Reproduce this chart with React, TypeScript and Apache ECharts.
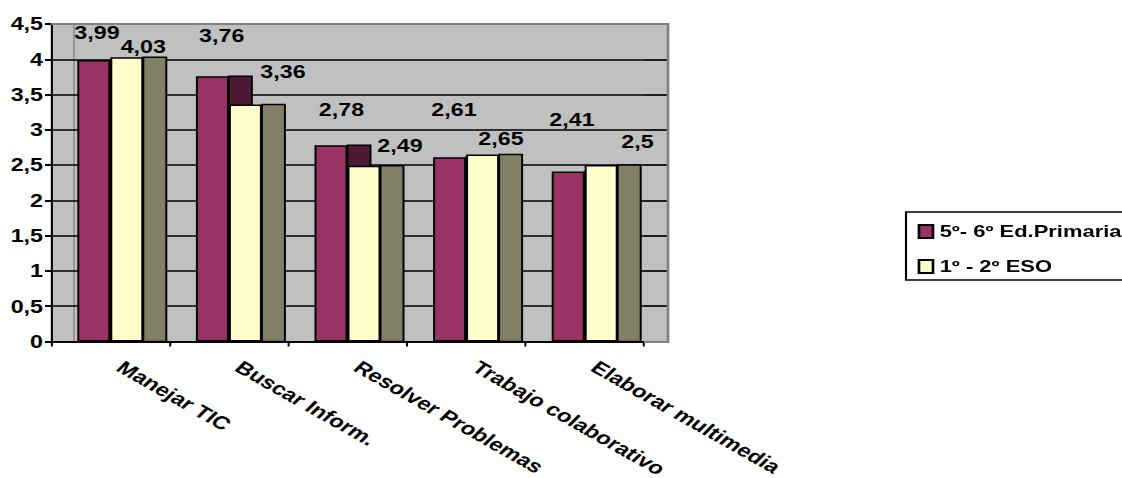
import React, { useEffect, useRef } from "react";
import * as echarts from "echarts";

// ---- data ----
const categories = [
  "Manejar TIC",
  "Buscar Inform.",
  "Resolver Problemas",
  "Trabajo colaborativo",
  "Elaborar multimedia",
];
const primaria = [3.99, 3.76, 2.78, 2.61, 2.41];
const eso = [4.03, 3.36, 2.49, 2.65, 2.5];
const seriesNames = ["5º- 6º Ed.Primaria", "1º - 2º ESO"];
const yMin = 0;
const yMax = 4.5;
const yInterval = 0.5;

// ---- styling / layout (page px, horizontally stretched by S) ----
const S = 1.33;
const W = 1122;
const H = 478;
const CW = W / S;
const sx = (v: number) => v / S;

// label centre relative to the bar front face top-left (page px)
const primariaLabelPos = [
  [19.7, -27.5],
  [25.8, -40.7],
  [27, -35.8],
  [20.9, -47.8],
  [20.3, -51.5],
];
const esoLabelPos = [
  [33, -10.8],
  [54.1, -32.4],
  [52.5, -20.3],
  [34.9, -15.8],
  [52.8, -23.4],
];

const FONT = "'Liberation Sans', Arial, sans-serif";
const PURPLE = "#993366";
const PURPLE_SIDE = "#4D1A33";
const YELLOW = "#FFFFCC";
const YELLOW_SIDE = "#808066";
const BG = "#C0C0C0";

const BAR_W = sx(33);
const DEPTH = sx(23);
const BORDER = 1.5;

const fmt = (v: number) => String(v).replace(".", ",");

export default function App() {
  const ref = useRef<HTMLDivElement>(null);

  useEffect(() => {
    if (!ref.current) return;
    const chart = echarts.init(ref.current, null, {
      renderer: "svg",
      width: CW,
      height: H,
    });

    const labelBase = {
      show: true,
      color: "#000",
      fontFamily: FONT,
      fontWeight: "bold" as const,
      fontSize: 17.5,
      align: "center" as const,
      verticalAlign: "middle" as const,
      formatter: (p: any) => fmt(p.value),
    };

    const sideSeries = (
      name: string,
      values: number[],
      offset: number,
      fill: string,
      z: number
    ) => ({
      type: "custom",
      name,
      xAxisIndex: 0,
      yAxisIndex: 0,
      z,
      silent: true,
      data: values.map((v, i) => [i, v]),
      encode: { x: 0, y: 1 },
      renderItem: (params: any, api: any) => {
        const i = api.value(0);
        const v = api.value(1);
        const top = api.coord([i, v]);
        const base = api.coord([i, 0]);
        return {
          type: "rect",
          shape: {
            x: top[0] + offset,
            y: top[1],
            width: DEPTH,
            height: base[1] - top[1],
          },
          style: { fill, stroke: "#000", lineWidth: BORDER },
        };
      },
    });

    const option: any = {
      animation: false,
      backgroundColor: "#fff",
      textStyle: { fontFamily: FONT },
      grid: [
        {
          left: sx(51),
          top: 24,
          width: sx(593),
          height: 317.5,
          show: true,
          backgroundColor: BG,
          borderWidth: 0,
          containLabel: false,
          outerBoundsMode: "none",
        },
        {
          left: sx(644),
          top: 24,
          width: sx(24),
          height: 317.5,
          show: true,
          backgroundColor: BG,
          borderWidth: 0,
          containLabel: false,
          outerBoundsMode: "none",
        },
      ],
      xAxis: [
        {
          type: "category",
          gridIndex: 0,
          data: categories,
          axisLine: { show: true, lineStyle: { color: "#000", width: 2 } },
          axisTick: {
            show: true,
            length: 5,
            lineStyle: { color: "#000", width: 1.5 },
          },
          axisLabel: {
            interval: 0,
            rotate: -37,
            margin: 18,
            padding: [0, 0, 0, 9],
            color: "#000",
            fontFamily: FONT,
            fontWeight: "bold",
            fontSize: 18,
          },
        },
        {
          type: "category",
          gridIndex: 1,
          data: [""],
          show: false,
        },
      ],
      yAxis: [
        {
          type: "value",
          gridIndex: 0,
          min: yMin,
          max: yMax,
          interval: yInterval,
          axisLine: { show: true, lineStyle: { color: "#000", width: 1.6 } },
          axisTick: {
            show: true,
            length: sx(6),
            lineStyle: { color: "#000", width: 2 },
          },
          axisLabel: {
            margin: sx(8),
            color: "#000",
            fontFamily: FONT,
            fontWeight: "bold",
            fontSize: 17.5,
            formatter: (v: number) => fmt(v),
          },
          splitLine: { show: true, lineStyle: { color: "#000", width: 1.7 } },
        },
        {
          type: "value",
          gridIndex: 1,
          min: yMin,
          max: yMax,
          interval: yInterval,
          axisLine: { show: false },
          axisTick: { show: false },
          axisLabel: { show: false },
          splitLine: { show: true, lineStyle: { color: "#000", width: 1.7 } },
        },
      ],
      legend: {
        data: seriesNames,
        orient: "vertical",
        left: sx(911),
        top: 218,
        itemWidth: sx(14),
        itemHeight: 13,
        itemGap: 18,
        icon: "rect",
        textStyle: {
          color: "#000",
          fontFamily: FONT,
          fontWeight: "bold",
          fontSize: 16.5,
        },
      },
      graphic: [
        {
          type: "line",
          z: 0,
          silent: true,
          shape: { x1: sx(74), y1: 24, x2: sx(74), y2: 341 },
          style: { stroke: "#8C8C8C", lineWidth: 1.2 },
        },
        {
          type: "polyline",
          z: 10,
          silent: true,
          shape: {
            points: [
              [sx(51), 24],
              [sx(668), 24],
              [sx(668), 342],
              [sx(644), 342],
            ],
          },
          style: { stroke: "#808080", lineWidth: 2, fill: null },
        },
        {
          type: "rect",
          z: 10,
          silent: true,
          shape: { x: sx(906), y: 212, width: 300, height: 68 },
          style: { fill: null, stroke: "#000", lineWidth: 1.6 },
        },
      ],
      series: [
        {
          type: "bar",
          name: seriesNames[0],
          xAxisIndex: 0,
          yAxisIndex: 0,
          z: 2,
          barWidth: BAR_W,
          barGap: "0%",
          itemStyle: { color: PURPLE, borderColor: "#000", borderWidth: BORDER },
          data: primaria.map((v, i) => ({
            value: v,
            label: {
              ...labelBase,
              position: [sx(primariaLabelPos[i][0]), primariaLabelPos[i][1]],
            },
          })),
        },
        sideSeries("side-primaria", primaria, 0, PURPLE_SIDE, 3),
        {
          type: "bar",
          name: seriesNames[1],
          xAxisIndex: 0,
          yAxisIndex: 0,
          z: 4,
          barWidth: BAR_W,
          barGap: "0%",
          itemStyle: { color: YELLOW, borderColor: "#000", borderWidth: BORDER },
          data: eso.map((v, i) => ({
            value: v,
            label: {
              ...labelBase,
              position: [sx(esoLabelPos[i][0]), esoLabelPos[i][1]],
            },
          })),
        },
        sideSeries("side-eso", eso, BAR_W, YELLOW_SIDE, 5),
      ],
    };

    chart.setOption(option);
    return () => chart.dispose();
  }, []);

  return (
    <div
      style={{
        position: "fixed",
        left: 0,
        top: 0,
        width: W,
        height: H,
        background: "#fff",
        overflow: "hidden",
      }}
    >
      <div
        ref={ref}
        style={{
          width: CW,
          height: H,
          transform: `scaleX(${S})`,
          transformOrigin: "0 0",
        }}
      />
    </div>
  );
}
